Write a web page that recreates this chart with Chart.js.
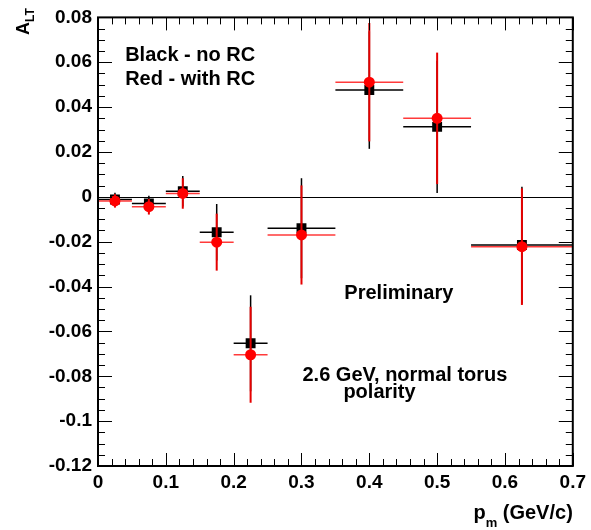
<!DOCTYPE html>
<html>
<head>
<meta charset="utf-8">
<script src="https://cdn.jsdelivr.net/npm/chart.js@4.4.1/dist/chart.umd.min.js"></script>
<style>
  html, body { margin: 0; padding: 0; background: #fff; }
  #wrap { width: 591px; height: 530px; position: relative; }
</style>
</head>
<body>
<div id="wrap"><canvas id="c"></canvas></div>
<script>
"use strict";

// bins in p_m (GeV/c)
const X_CENTER = [0.025, 0.075, 0.125, 0.175, 0.225, 0.3, 0.4, 0.5, 0.625];
const X_LOW    = [0, 0.05, 0.1, 0.15, 0.2, 0.25, 0.35, 0.45, 0.55];
const X_HIGH   = [0.05, 0.1, 0.15, 0.2, 0.25, 0.35, 0.45, 0.55, 0.7];

// A_LT without radiative corrections (black) and with (red)
const BLACK_Y   = [-0.0012, -0.0030, 0.0025, -0.0158, -0.0653, -0.0140, 0.0476, 0.0312, -0.0215];
const BLACK_ERR = [0.0030, 0.0035, 0.0068, 0.0126, 0.0214, 0.0223, 0.0262, 0.0295, 0.0260];
const RED_Y     = [-0.0018, -0.0044, 0.0015, -0.0202, -0.0704, -0.0170, 0.0511, 0.0350, -0.0222];
const RED_ERR   = [0.0030, 0.0035, 0.0068, 0.0127, 0.0214, 0.0221, 0.0264, 0.0293, 0.0260];

// axes
const X_MIN = 0, X_MAX = 0.7, X_STEP = 0.1, X_MINOR = 0.02;
const Y_MIN = -0.12, Y_MAX = 0.08, Y_STEP = 0.02, Y_MINOR = 0.005;

const FONT = "'Liberation Sans', Arial, Helvetica, sans-serif";

// notes drawn on the plot, anchored in data coordinates
const NOTES = [
    { text: "Black - no RC", x: 0.040, y: 0.0604 },
    { text: "Red - with RC", x: 0.040, y: 0.0499 },
    { text: "Preliminary", x: 0.3632, y: -0.0457 },
    { text: "2.6 GeV, normal torus", x: 0.3015, y: -0.0819 },
    { text: "polarity", x: 0.3618, y: -0.0899 }
];

function pts(ys) {
    return X_CENTER.map((x, i) => ({ x: x, y: ys[i] }));
}

function fmtTick(v) {
    const n = Number(Number(v).toFixed(3));
    return n === 0 ? "0" : String(n);
}

const errorBars = {
    id: "errorBars",
    beforeDatasetsDraw(chart) {
        // zero line
        const { ctx, scales: { x, y } } = chart;
        ctx.save();
        ctx.strokeStyle = "#000";
        ctx.lineWidth = 1;
        const y0 = Math.round(y.getPixelForValue(0)) + 0.5;
        ctx.beginPath();
        ctx.moveTo(x.getPixelForValue(X_MIN), y0);
        ctx.lineTo(x.getPixelForValue(X_MAX), y0);
        ctx.stroke();
        ctx.restore();
    },
    beforeDatasetDraw(chart, args) {
        const ds = chart.data.datasets[args.index];
        const { ctx, scales: { x, y } } = chart;
        ctx.save();
        X_CENTER.forEach((xc, i) => {
            const v = ds.values[i], e = ds.errs[i];
            const px = x.getPixelForValue(xc);
            const py = y.getPixelForValue(v);
            ctx.strokeStyle = ds.barColor;
            ctx.lineWidth = ds.barWidth;
            ctx.beginPath();
            ctx.moveTo(x.getPixelForValue(X_LOW[i]), py);
            ctx.lineTo(x.getPixelForValue(X_HIGH[i]), py);
            ctx.stroke();
            ctx.strokeStyle = ds.vColor;
            ctx.lineWidth = ds.vWidth;
            ctx.beginPath();
            ctx.moveTo(px, y.getPixelForValue(v - e));
            ctx.lineTo(px, y.getPixelForValue(v + e));
            ctx.stroke();
        });
        ctx.restore();
    },
    afterDraw(chart) {
        const { ctx, chartArea: a, scales: { x, y } } = chart;
        ctx.save();
        ctx.strokeStyle = "#000";
        ctx.lineWidth = 1;
        // ticks inside the frame on all four sides
        ctx.beginPath();
        for (let k = 0; k <= Math.round((X_MAX - X_MIN) / X_MINOR); k++) {
            const v = X_MIN + k * X_MINOR;
            const major = k % Math.round(X_STEP / X_MINOR) === 0;
            const len = major ? 13 : 7;
            const px = Math.round(x.getPixelForValue(v)) + 0.5;
            ctx.moveTo(px, a.bottom); ctx.lineTo(px, a.bottom - len);
            ctx.moveTo(px, a.top); ctx.lineTo(px, a.top + len);
        }
        for (let k = 0; k <= Math.round((Y_MAX - Y_MIN) / Y_MINOR); k++) {
            const v = Y_MIN + k * Y_MINOR;
            const major = k % Math.round(Y_STEP / Y_MINOR) === 0;
            const len = major ? 14 : 7;
            const py = Math.round(y.getPixelForValue(v)) + 0.5;
            ctx.moveTo(a.left, py); ctx.lineTo(a.left + len, py);
            ctx.moveTo(a.right, py); ctx.lineTo(a.right - len, py);
        }
        ctx.stroke();
        // frame
        ctx.lineWidth = 2;
        ctx.strokeRect(a.left, a.top, a.right - a.left, a.bottom - a.top);

        // notes
        ctx.fillStyle = "#000";
        ctx.font = "bold 20px " + FONT;
        ctx.textAlign = "left";
        ctx.textBaseline = "alphabetic";
        for (const n of NOTES) {
            ctx.fillText(n.text, x.getPixelForValue(n.x), y.getPixelForValue(n.y));
        }

        // x title: p_m (GeV/c), right aligned to the axis end
        const right = x.getPixelForValue(X_MAX);
        const base = 519;
        ctx.font = "bold 20px " + FONT;
        const wRest = ctx.measureText(" (GeV/c)").width;
        const wP = ctx.measureText("p").width;
        ctx.font = "bold 13px " + FONT;
        const wM = ctx.measureText("m").width;
        let cx = right - wRest - wM - wP;
        ctx.font = "bold 20px " + FONT;
        ctx.fillText("p", cx, base);
        cx += wP;
        ctx.font = "bold 13px " + FONT;
        ctx.fillText("m", cx, base + 8);
        cx += wM;
        ctx.font = "bold 20px " + FONT;
        ctx.fillText(" (GeV/c)", cx, base);

        // y title: A_LT, rotated
        ctx.translate(29, 35);
        ctx.rotate(-Math.PI / 2);
        ctx.font = "bold 18px " + FONT;
        ctx.fillText("A", 0, 0);
        const wA = ctx.measureText("A").width;
        ctx.font = "bold 12px " + FONT;
        ctx.fillText("LT", wA, 5);
        ctx.restore();
    }
};

document.addEventListener("DOMContentLoaded", () => {
    const ctx = document.getElementById("c").getContext("2d");
    new Chart(ctx, {
        type: "scatter",
        data: {
            datasets: [
                {
                    label: "no RC",
                    data: pts(BLACK_Y),
                    values: BLACK_Y, errs: BLACK_ERR,
                    barColor: "#000", vColor: "#000", barWidth: 1.5, vWidth: 1.5,
                    pointStyle: "rect", pointRadius: 7,
                    backgroundColor: "#000", borderColor: "#000", borderWidth: 0,
                    order: 2
                },
                {
                    label: "with RC",
                    data: pts(RED_Y),
                    values: RED_Y, errs: RED_ERR,
                    barColor: "#ff3a3a", vColor: "#e60000", barWidth: 1.5, vWidth: 2,
                    pointStyle: "circle", pointRadius: 5.5,
                    backgroundColor: "#ff0000", borderColor: "#ff0000", borderWidth: 0,
                    order: 1
                }
            ]
        },
        options: {
            responsive: true,
            maintainAspectRatio: false,
            animation: false,
            layout: { padding: { top: 14, right: 17, left: 0, bottom: 0 } },
            plugins: { legend: { display: false }, tooltip: { enabled: false } },
            scales: {
                x: {
                    type: "linear", min: X_MIN, max: X_MAX,
                    grid: { display: false, drawTicks: false },
                    border: { display: false },
                    ticks: {
                        stepSize: X_STEP, padding: 5, color: "#000",
                        font: { family: FONT, size: 19, weight: "bold" },
                        maxRotation: 0, callback: fmtTick
                    },
                    afterFit: s => { s.height = 64; }
                },
                y: {
                    type: "linear", min: Y_MIN, max: Y_MAX,
                    grid: { display: false, drawTicks: false },
                    border: { display: false },
                    ticks: {
                        stepSize: Y_STEP, padding: 6, color: "#000",
                        font: { family: FONT, size: 19, weight: "bold" },
                        callback: fmtTick
                    },
                    afterFit: s => { s.width = 98; }
                }
            }
        },
        plugins: [errorBars]
    });
});
</script>
</body>
</html>
